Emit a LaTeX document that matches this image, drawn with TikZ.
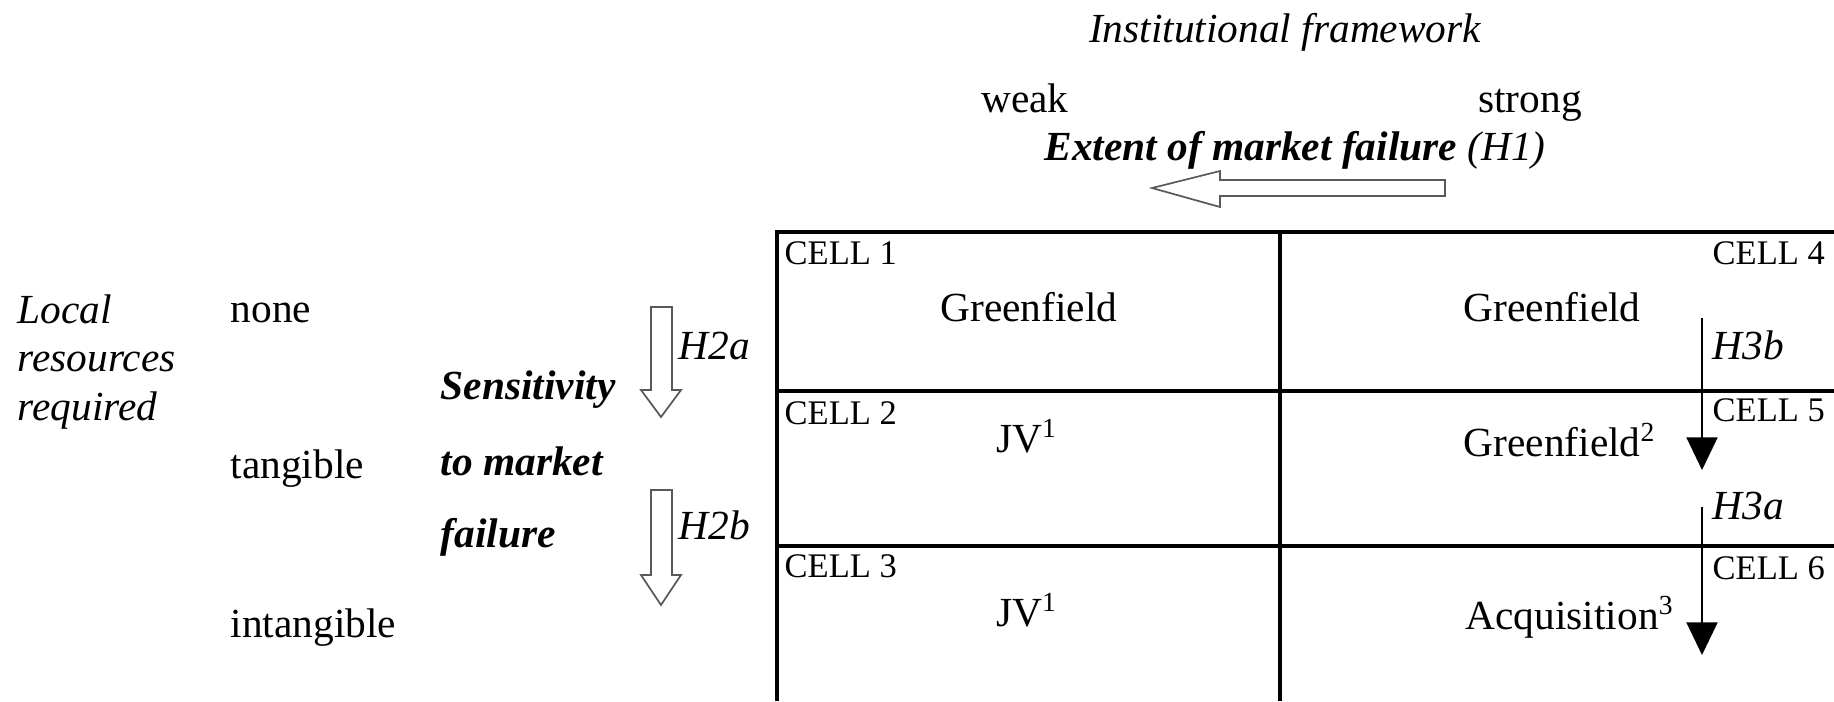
\documentclass[tikz,border=0pt]{standalone}
\usepackage{fontspec}
\setmainfont{Liberation Serif}
\usetikzlibrary{arrows.meta}

\begin{document}
\begin{tikzpicture}[x=0.29pt,y=-0.29pt,
  txt/.style={inner sep=0pt,text height=1.5ex,text depth=.25ex,font=\fontsize{12}{14}\selectfont},
  celltag/.style={inner sep=0pt,anchor=west,text height=1.5ex,text depth=.25ex,font=\fontsize{10}{12}\selectfont},
  hollow/.style={draw=black!65,line width=0.5pt,fill=white},
  rule/.style={line width=1pt},
  solidarrow/.style={line width=0.6pt,-{Triangle[width=9pt,length=9.5pt]}}]
  \useasboundingbox (0,0) rectangle (1834,701);
  \node[txt,font=\fontsize{12}{14}\selectfont\itshape] (inst) at (1285,33) {Institutional framework};
  \node[txt] (weak) at (1025,103) {weak};
  \node[txt] (strong) at (1530,103) {strong};
  \node[txt,font=\fontsize{12}{14}\selectfont\itshape] (extent) at (1295,151) {\textbf{Extent of market failure} (H1)};
  \draw[hollow] (1445,180) -- (1220,180) -- (1220,171) -- (1152,188) -- (1220,207) -- (1220,196) -- (1445,196) -- cycle;

  \node[inner sep=0pt,anchor=west,align=left,font=\fontsize{12}{14}\selectfont\itshape] (local) at (17,362) {Local\\resources\\required};
  \node[txt,anchor=west] (none) at (230,313) {none};
  \node[txt,anchor=west] (tang) at (230,469) {tangible};
  \node[txt,anchor=west] (intang) at (230,628) {intangible};
  \node[txt,anchor=west,font=\fontsize{12}{14}\selectfont\bfseries\itshape] (sens) at (440,390) {Sensitivity};
  \node[txt,anchor=west,font=\fontsize{12}{14}\selectfont\bfseries\itshape] (tomkt) at (440,466) {to market};
  \node[txt,anchor=west,font=\fontsize{12}{14}\selectfont\bfseries\itshape] (fail) at (440,538) {failure};
  \draw[hollow] (651,307) -- (672,307) -- (672,390) -- (681,390) -- (661,417) -- (641,390) -- (651,390) -- cycle;
  \draw[hollow] (651,490) -- (672,490) -- (672,575) -- (681,575) -- (661,605) -- (641,575) -- (651,575) -- cycle;
  \node[txt,anchor=west,font=\fontsize{12}{14}\selectfont\itshape] (h2a) at (678,350) {H2a};
  \node[txt,anchor=west,font=\fontsize{12}{14}\selectfont\itshape] (h2b) at (678,530) {H2b};

  \draw[rule] (1834,232) -- (777,232) -- (777,701);
  \draw[rule] (1280,232) -- (1280,701);
  \draw[rule] (777,391) -- (1834,391);
  \draw[rule] (777,546) -- (1834,546);

  \node[celltag] (c1) at (784,255) {CELL 1};
  \node[celltag] (c2) at (784,415) {CELL 2};
  \node[celltag] (c3) at (784,568) {CELL 3};
  \node[celltag] (c4) at (1712,255) {CELL 4};
  \node[celltag] (c5) at (1712,412) {CELL 5};
  \node[celltag] (c6) at (1712,570) {CELL 6};

  \node[txt] (g1) at (1029,312) {Greenfield};
  \node[txt] (jv2) at (1027,443) {JV\textsuperscript{1}};
  \node[txt] (jv3) at (1027,617) {JV\textsuperscript{1}};
  \node[txt,anchor=west] (g4) at (1463,312) {Greenfield};
  \node[txt,anchor=west] (g5) at (1463,447) {Greenfield\textsuperscript{2}};
  \node[txt,anchor=west] (acq6) at (1465,620) {Acquisition\textsuperscript{3}};

  \coordinate (h3btop) at (1702,318);
  \coordinate (h3bend) at (1702,470);
  \coordinate (h3atop) at (1702,507);
  \coordinate (h3aend) at (1702,655);
  \draw[solidarrow] (h3btop) -- (h3bend);
  \draw[solidarrow] (h3atop) -- (h3aend);
  \node[txt,anchor=west,font=\fontsize{12}{14}\selectfont\itshape] (h3b) at (1712,350) {H3b};
  \node[txt,anchor=west,font=\fontsize{12}{14}\selectfont\itshape] (h3a) at (1712,510) {H3a};
\end{tikzpicture}
\end{document}
